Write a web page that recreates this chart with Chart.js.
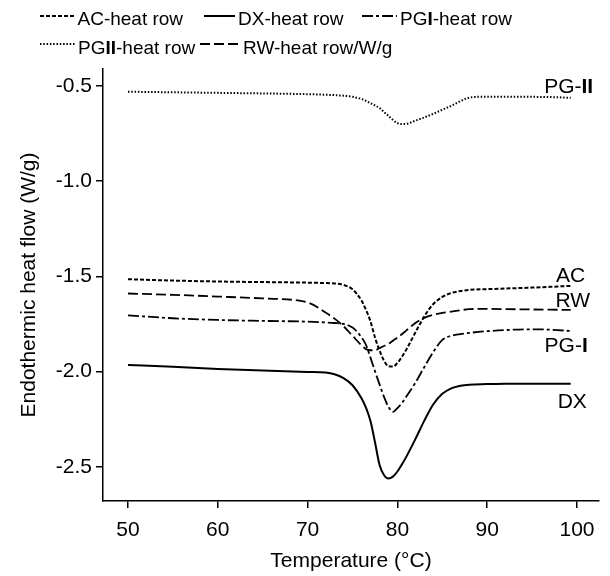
<!DOCTYPE html>
<html><head><meta charset="utf-8">
<script src="https://cdn.jsdelivr.net/npm/chart.js@4.4.1/dist/chart.umd.min.js"></script>
<style>html,body{margin:0;padding:0;background:#fff;}canvas{display:block;}</style>
</head><body>
<canvas id="c" width="610" height="576" style="width:610px;height:576px"></canvas>
<script>
// ---- data ----
const temperature = [50,55,60,65,70,72,73,74,75,76,76.5,77,77.5,78,78.5,79,79.5,80,80.5,81,82,83,84,85,86,87,88,90,92,95,97,99.3];
const acHeat   = [-1.515,-1.522,-1.527,-1.530,-1.533,-1.535,-1.537,-1.545,-1.568,-1.627,-1.676,-1.736,-1.820,-1.888,-1.942,-1.972,-1.974,-1.955,-1.923,-1.884,-1.795,-1.710,-1.645,-1.608,-1.587,-1.577,-1.571,-1.567,-1.564,-1.559,-1.555,-1.550];
const dxHeat   = [-1.965,-1.975,-1.986,-1.995,-2.002,-2.005,-2.014,-2.035,-2.072,-2.140,-2.190,-2.260,-2.370,-2.488,-2.543,-2.562,-2.552,-2.525,-2.488,-2.447,-2.355,-2.258,-2.172,-2.117,-2.088,-2.075,-2.069,-2.066,-2.064,-2.064,-2.064,-2.064];
const pgIHeat  = [-1.705,-1.720,-1.729,-1.734,-1.738,-1.742,-1.745,-1.750,-1.769,-1.820,-1.860,-1.927,-1.998,-2.066,-2.132,-2.185,-2.212,-2.192,-2.166,-2.131,-2.059,-1.976,-1.897,-1.834,-1.812,-1.803,-1.797,-1.788,-1.782,-1.778,-1.780,-1.787];
const pgIIHeat = [-0.530,-0.533,-0.536,-0.539,-0.543,-0.546,-0.548,-0.551,-0.557,-0.568,-0.578,-0.590,-0.602,-0.615,-0.636,-0.657,-0.678,-0.695,-0.700,-0.699,-0.682,-0.665,-0.646,-0.625,-0.604,-0.580,-0.561,-0.556,-0.556,-0.557,-0.558,-0.562];
const rwHeat   = [-1.590,-1.597,-1.606,-1.616,-1.637,-1.690,-1.722,-1.762,-1.812,-1.862,-1.882,-1.888,-1.888,-1.877,-1.866,-1.855,-1.838,-1.822,-1.804,-1.784,-1.745,-1.718,-1.702,-1.692,-1.685,-1.678,-1.672,-1.671,-1.672,-1.674,-1.675,-1.676];
const seriesNames = ['AC-heat row','DX-heat row','PGI-heat row','PGII-heat row','RW-heat row/W/g'];
const curveTags = ['AC','DX','PG-I','PG-II','RW'];
const tagAnchorT = [100.9,101.1,101.2,101.8,101.45];
const tagAnchorV = [-1.527,-2.19,-1.895,-0.538,-1.659];
const xTickValues = [50,60,70,80,90,100];
const yTickValues = [-2.5,-2.0,-1.5,-1.0,-0.5];

const FAMILY = "'Liberation Sans', Arial, Helvetica, sans-serif";
const pts = arr => temperature.map((t,i)=>({x:t,y:arr[i]}));

const styles = [
  {borderDash:[4,2], borderWidth:2},
  {borderDash:[], borderWidth:2},
  {borderDash:[11,3,3,3], borderWidth:1.8},
  {borderDash:[1.5,1.8], borderWidth:2},
  {borderDash:[10,4], borderWidth:1.8}
];
const seriesValues = [acHeat, dxHeat, pgIHeat, pgIIHeat, rwHeat];

const legendSlots = [
  {x0:40, x1:75, tx:77.5, ly:16, ty:25},
  {x0:204, x1:235, tx:238, ly:16, ty:25},
  {x0:362, x1:397, tx:400, ly:16, ty:25},
  {x0:40, x1:75, tx:78, ly:44, ty:54},
  {x0:200, x1:240, tx:243, ly:44, ty:54}
];

function splitRoman(s){
  const m = s.match(/^(PG-?)(I+)(.*)$/);
  if(!m) return [{t:s,bold:false}];
  return [{t:m[1],bold:false},{t:m[2],bold:true},{t:m[3],bold:false}];
}
function drawRich(ctx, s, x, y, size, align){
  const parts = splitRoman(s);
  const fN = size+'px '+FAMILY, fB = 'bold '+size+'px '+FAMILY;
  let w = 0;
  parts.forEach(p=>{ctx.font=p.bold?fB:fN; p.w=ctx.measureText(p.t).width; w+=p.w;});
  let cx = align==='right' ? x-w : x;
  ctx.textAlign='left';
  parts.forEach(p=>{ctx.font=p.bold?fB:fN; ctx.fillText(p.t,cx,y); cx+=p.w;});
}

const annotate = {
  id:'annotate',
  afterDraw(chart){
    const ctx = chart.ctx, xs = chart.scales.x, ys = chart.scales.y;
    ctx.save();
    ctx.fillStyle='#000';
    ctx.textBaseline='alphabetic';
    curveTags.forEach((tag,i)=>{
      drawRich(ctx, tag, xs.getPixelForValue(tagAnchorT[i]), ys.getPixelForValue(tagAnchorV[i]), 21, 'right');
    });
    chart.data.datasets.forEach((ds,i)=>{
      const L = legendSlots[i];
      ctx.strokeStyle = ds.borderColor;
      ctx.lineWidth = ds.borderWidth;
      ctx.setLineDash(ds.borderDash||[]);
      ctx.beginPath(); ctx.moveTo(L.x0,L.ly); ctx.lineTo(L.x1,L.ly); ctx.stroke();
      ctx.setLineDash([]);
      drawRich(ctx, ds.label, L.tx, L.ty, 19, 'left');
    });
    ctx.restore();
  }
};

new Chart(document.getElementById('c'), {
  type:'line',
  data:{
    datasets: seriesNames.map((name,i)=>({
      label:name,
      data:pts(seriesValues[i]),
      borderColor:'#000',
      backgroundColor:'#000',
      borderWidth:styles[i].borderWidth,
      borderDash:styles[i].borderDash,
      fill:false,
      pointRadius:0,
      cubicInterpolationMode:'monotone'
    }))
  },
  options:{
    responsive:false,
    animation:false,
    devicePixelRatio:1,
    layout:{padding:{top:69,right:11,left:0,bottom:0}},
    plugins:{legend:{display:false},tooltip:{enabled:false}},
    scales:{
      x:{
        type:'linear', min:47.216, max:102.45,
        afterFit(s){ s.height = 75; },
        afterBuildTicks(s){ s.ticks = xTickValues.map(v=>({value:v})); },
        ticks:{color:'#000', font:{family:FAMILY,size:21}, padding:10, maxRotation:0, autoSkip:false, callback:v=>String(v)},
        grid:{display:true, drawOnChartArea:false, drawTicks:true, tickLength:7, color:'#000', lineWidth:1.5},
        border:{display:true, color:'#000', width:1.5},
        title:{display:true, text:'Temperature (°C)', color:'#000', font:{family:FAMILY,size:21}, padding:{top:0,bottom:2}}
      },
      y:{
        type:'linear', min:-2.680, max:-0.4107,
        afterFit(s){ s.width = 103; },
        afterBuildTicks(s){ s.ticks = yTickValues.map(v=>({value:v})); },
        ticks:{color:'#000', font:{family:FAMILY,size:21}, padding:4, callback:v=>Number(v).toFixed(1)},
        grid:{display:true, drawOnChartArea:false, drawTicks:true, tickLength:7, color:'#000', lineWidth:1.5},
        border:{display:true, color:'#000', width:1.5},
        title:{display:true, text:'Endothermic heat flow (W/g)', color:'#000', font:{family:FAMILY,size:21}, padding:{top:17,bottom:0}}
      }
    }
  },
  plugins:[annotate]
});
</script>
</body></html>
